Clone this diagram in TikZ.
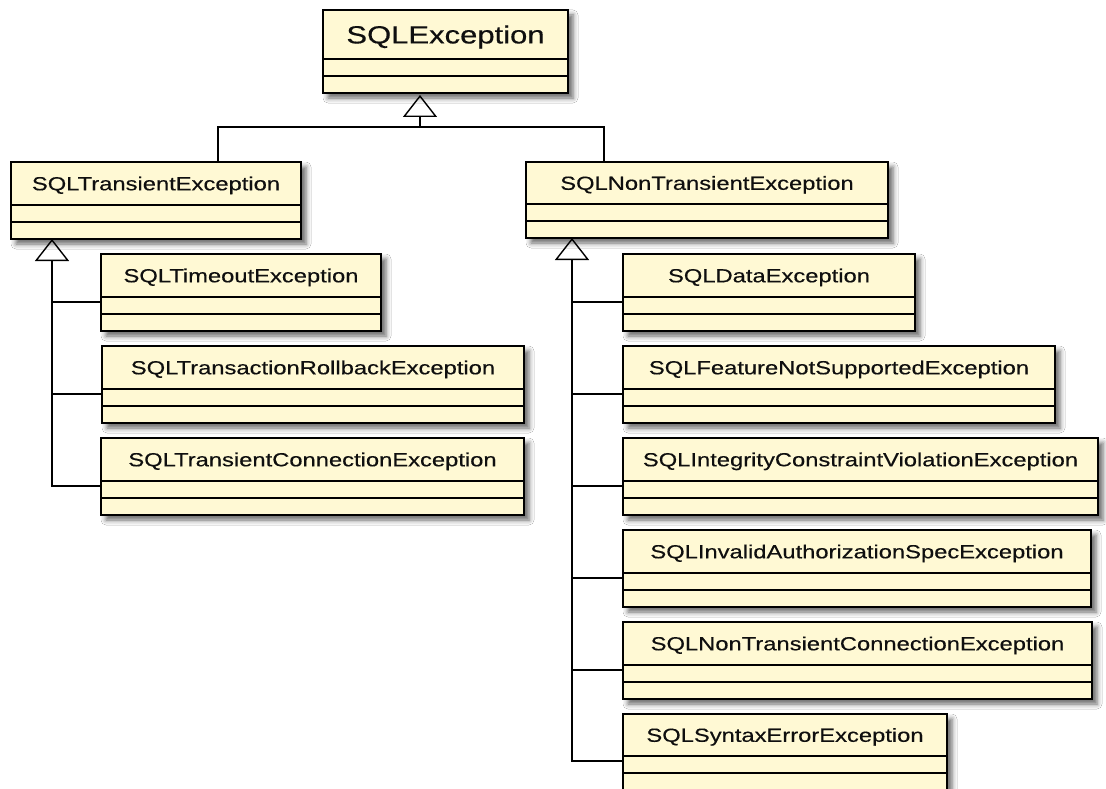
\documentclass[tikz,border=0pt]{standalone}
\usepackage{fontspec}
\usetikzlibrary{calc,arrows.meta,shadows.blur}
\newfontfamily\umlfont[FakeStretch=1.25,FakeBold=0.4]{Liberation Sans}
\definecolor{classfill}{RGB}{255,249,212}
\definecolor{classtext}{RGB}{15,15,15}
\tikzset{
	classbox/.style = {draw = black, line width = 1.7pt, fill = classfill, inner sep = 0pt, outer sep = 0pt, blur shadow = {shadow xshift = 5pt, shadow yshift = -5pt, shadow blur radius = 5pt, shadow opacity = 60}},
	classname/.style = {font = \umlfont\fontsize{19}{22}\selectfont, text = classtext, inner sep = 0pt, text height = 13.6pt, text depth = 0pt},
	bigname/.style = {font = \umlfont\fontsize{24.8}{28}\selectfont, text height = 17.8pt},
	divider/.style = {line width = 1.4pt},
	link/.style = {line width = 1.4pt},
	inherit/.style = {link, -{Triangle[open, length = 22pt, width = 34pt, line width = 1.4pt]}}
}
% #2 name, #3 left, #4 top, #5 width, #6 height of the name part, #7 class name
\newcommand{\umlclass}[7][]{
	\node[classbox, anchor = north west, minimum width = #5, minimum height = #6 + 34] (#2) at (#3, #4) {};
	\node[classname, #1] (#2-name) at ($(#2.north) + (0, #6 / 2)$) {#7};
	\draw[divider] ($(#2.north west) + (0, #6)$) -- ++(#5, 0) ++(-#5, 17) -- ++(#5, 0);
	\coordinate (#2-in) at ($(#2.north west) + (0, #6 + 5)$);
}
\begin{document}
\begin{tikzpicture}[x = 1pt, y = -1pt]
	\fill[white] (0, 0) rectangle (1106, 789);
	\useasboundingbox (0, 0) rectangle (1106, 789);

	\umlclass[bigname]{exc}{323}{10}{245}{49}{SQLException}
	\umlclass{ts}{11}{162}{290}{43}{SQLTransientException}
	\umlclass{nts}{526}{162}{362}{42}{SQLNonTransientException}

	% transient side
	\umlclass{to}{101}{254}{280}{43}{SQLTimeoutException}
	\umlclass{tr}{102}{346}{422}{43}{SQLTransactionRollbackException}
	\umlclass{tc}{101}{438}{423}{43}{SQLTransientConnectionException}

	% non transient side
	\umlclass{de}{623}{254}{292}{43}{SQLDataException}
	\umlclass{fns}{623}{346}{432}{43}{SQLFeatureNotSupportedException}
	\umlclass{icv}{623}{438}{475}{43}{SQLIntegrityConstraintViolationException}
	\umlclass{ias}{623}{530}{468}{43}{SQLInvalidAuthorizationSpecException}
	\umlclass{ntc}{623}{622}{469}{43}{SQLNonTransientConnectionException}
	\umlclass{se}{623}{714}{324}{42}{SQLSyntaxErrorException}

	\coordinate (lj) at (218, 127);
	\coordinate (mj) at (420, 127);
	\coordinate (rj) at (604, 127);
	\draw[link] (ts.north -| lj) |- (rj) -- (nts.north -| rj);
	\draw[inherit, shorten > = 2pt] (mj) -- (exc.south -| mj);

	\coordinate (ltip) at (52, 239);
	\draw[inherit] (tc-in) -| (ltip);
	\draw[link] (to-in) -- (to-in -| ltip);
	\draw[link] (tr-in) -- (tr-in -| ltip);

	\coordinate (rtip) at (572, 238);
	\draw[inherit] (se-in) -| (rtip);
	\foreach \c in {de, fns, icv, ias, ntc}
		\draw[link] (\c-in) -- (\c-in -| rtip);
\end{tikzpicture}
\end{document}
